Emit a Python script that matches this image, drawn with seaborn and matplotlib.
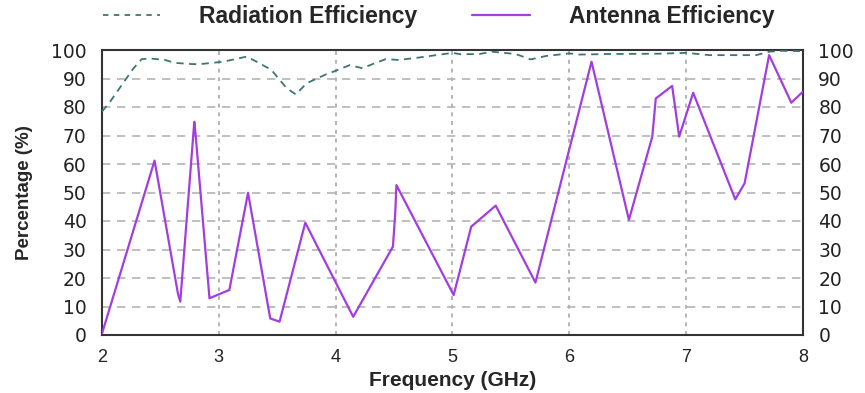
import matplotlib
matplotlib.use("Agg")
import matplotlib.pyplot as plt
import seaborn as sns
import pandas as pd
from matplotlib.lines import Line2D

# ---- data ----
rad_freq = [2.00, 2.07, 2.27, 2.34, 2.42, 2.54, 2.62, 2.75, 2.83, 3.04, 3.24, 3.35,
            3.45, 3.58, 3.66, 3.75, 3.92, 4.00, 4.12, 4.23, 4.33, 4.43, 4.54, 4.72,
            5.00, 5.07, 5.23, 5.34, 5.54, 5.67, 5.80, 6.00, 6.09, 6.35, 6.77, 7.00,
            7.20, 7.60, 7.71, 7.82, 8.00]
rad_eff = [78.4, 81.9, 93.6, 96.8, 97.0, 96.5, 95.5, 95.1, 95.0, 95.9, 97.7, 95.3,
           93.0, 86.6, 84.4, 88.3, 91.5, 92.7, 94.7, 93.6, 95.3, 96.8, 96.5, 97.4,
           99.0, 98.5, 98.6, 99.4, 98.6, 96.7, 97.9, 98.8, 98.4, 98.6, 98.7, 99.0,
           98.2, 98.2, 99.4, 99.7, 99.6]

ant_freq = [2.00, 2.45, 2.65, 2.67, 2.79, 2.80, 2.92, 3.09, 3.25, 3.44, 3.52, 3.74,
            4.15, 4.49, 4.51, 4.52, 5.01, 5.16, 5.37, 5.71, 6.19, 6.51, 6.71, 6.74,
            6.88, 6.94, 7.06, 7.42, 7.50, 7.71, 7.90, 8.00]
ant_eff = [0.5, 61.2, 14.5, 11.7, 74.8, 70.8, 12.9, 15.8, 49.9, 5.8, 4.7, 39.4,
           6.4, 31.0, 42.7, 52.6, 14.0, 38.0, 45.4, 18.4, 95.9, 40.4, 69.6, 83.0,
           87.4, 69.6, 85.0, 47.6, 53.2, 98.2, 81.5, 85.4]

x_ticks = [2, 3, 4, 5, 6, 7, 8]
y_ticks = [0, 10, 20, 30, 40, 50, 60, 70, 80, 90, 100]

series_names = ["Radiation Efficiency", "Antenna Efficiency"]
x_label = "Frequency (GHz)"
y_label = "Percentage (%)"

# ---- plot ----
sns.set_style("white")
plt.rcParams['font.family'] = ['DejaVu Sans']

TEAL = "#3b7675"
PURPLE = "#a33ddf"
GRID = "#b4b4b4"

fig = plt.figure(figsize=(8.65, 3.93), dpi=100)
ax = fig.add_axes([102/865, 1 - 335/393, (803 - 102)/865, (335 - 50)/393])

df_rad = pd.DataFrame({"f": rad_freq, "v": rad_eff})
df_ant = pd.DataFrame({"f": ant_freq, "v": ant_eff})

sns.lineplot(data=df_rad, x="f", y="v", ax=ax, color=TEAL, linewidth=1.3,
             linestyle=(0, (4, 3)), zorder=3)
sns.lineplot(data=df_ant, x="f", y="v", ax=ax, color=PURPLE, linewidth=1.6, zorder=4)

ax.set_xlim(2, 8)
ax.set_ylim(0, 100)
ax.set_xticks(x_ticks)
ax.set_yticks(y_ticks)
ax.set_xticklabels([str(t) for t in x_ticks], fontsize=13, color="#222222",
                   family=["Liberation Sans"])
ax.set_yticklabels([str(t) for t in y_ticks], fontsize=13.5, color="#222222")

for y in y_ticks[1:-1]:
    ax.axhline(y, color=GRID, linewidth=1.2, linestyle=(0, (5, 4)), zorder=1)
for x in x_ticks[1:-1]:
    ax.axvline(x, color=GRID, linewidth=1.4, linestyle=(0, (2, 2.5)), zorder=1)

ax.tick_params(axis="x", length=0, pad=10)
ax.tick_params(axis="y", length=0, pad=11, labelright=True, right=False)

for s in ax.spines.values():
    s.set_color("#333333")
    s.set_linewidth(1.5)

ax.set_xlabel(x_label, fontsize=15, fontweight="bold", family=["Liberation Sans"],
              labelpad=4)
ax.set_ylabel(y_label, fontsize=13.5, fontweight="bold", family=["Liberation Sans"],
              labelpad=13)

handles = [Line2D([0], [0], color=TEAL, linewidth=1.3, linestyle=(0, (3, 3))),
           Line2D([0], [0], color=PURPLE, linewidth=1.6)]
fig.legend(handles, series_names, loc="center", bbox_to_anchor=(0.507, 1 - 17/393),
           ncol=2, frameon=False, handlelength=2.5, handletextpad=1.7,
           columnspacing=2.4, prop={"family": "Liberation Sans", "weight": "bold",
                                    "size": 16.5})

fig.savefig("out.png", dpi=100)
